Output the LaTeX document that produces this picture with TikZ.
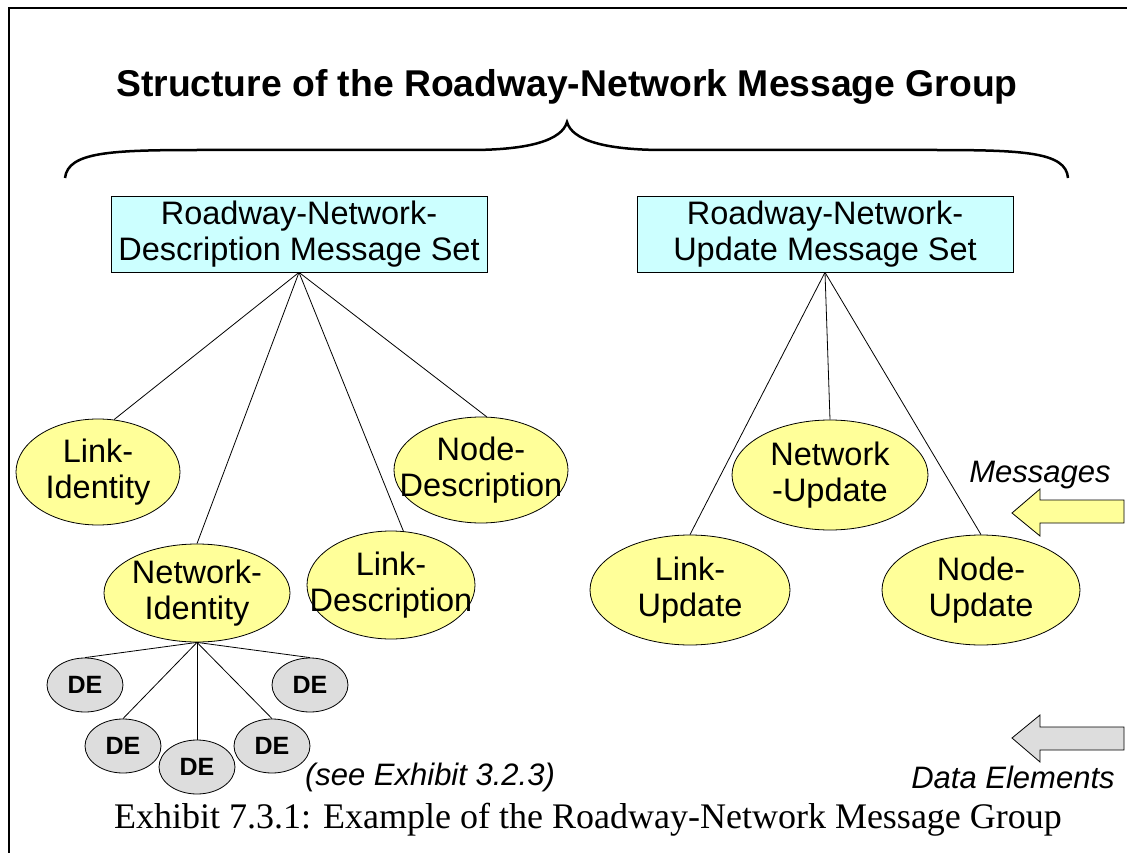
\documentclass[tikz,border=0pt]{standalone}
\usepackage{fontspec}
\setmainfont{Liberation Sans}
\newfontfamily\capfont{Liberation Serif}
\usepackage{tikz}
\usetikzlibrary{shapes.geometric}
\usepackage{xcolor}
\definecolor{setcyan}{HTML}{CCFFFF}
\definecolor{msgyellow}{HTML}{FFFF99}
\definecolor{degray}{HTML}{DDDDDD}

\begin{document}
\begin{tikzpicture}[x=1pt,y=-1pt,
  msgset/.style={draw,fill=setcyan,line width=0.8pt,minimum width=376pt,minimum height=76pt,align=center,font=\fontsize{32.5}{36}\selectfont},
  msg/.style={ellipse,draw,fill=msgyellow,line width=0.8pt,inner sep=0pt},
  msgtext/.style={align=center,font=\fontsize{32.5}{36}\selectfont},
  de/.style={ellipse,draw,fill=degray,line width=0.8pt,minimum width=76pt,minimum height=54pt,inner sep=0pt,font=\fontsize{25}{28}\selectfont\bfseries},
  note/.style={font=\fontsize{31}{35}\selectfont\itshape},
  link/.style={line width=0.8pt}]
\useasboundingbox (0,0) rectangle (1127,853);

\draw[line width=2.5pt] (9,853) -- (9,8) -- (1127,8);

\node[font=\fontsize{37.3}{40}\selectfont\bfseries] (title) at (567,87) {Structure of the Roadway-Network Message Group};

\draw[line width=2.5pt] (65,178) .. controls (68,152) and (110,150) .. (200,150) -- (470,150)
  .. controls (530,150) and (562,140) .. (567,122)
  .. controls (572,140) and (604,150) .. (664,150) -- (934,150)
  .. controls (1024,150) and (1066,152) .. (1068,178);

\node[msgset] (rnd) at (299,234) {Roadway-Network-\\Description Message Set};
\node[msgset] (rnu) at (825,234) {Roadway-Network-\\Update Message Set};

\node[msg,minimum width=164pt,minimum height=106pt,label={[msgtext]center:{Link-\\Identity}}] (linkid) at (98,472) {};
\node[msg,minimum width=186pt,minimum height=98pt,label={[msgtext]center:{Network-\\Identity}}] (netid) at (197,593) {};
\node[msg,minimum width=168pt,minimum height=108pt,label={[msgtext]center:{Link-\\Description}}] (linkdesc) at (391,585) {};
\node[msg,minimum width=174pt,minimum height=106pt,label={[msgtext]center:{Node-\\Description}}] (nodedesc) at (481,470) {};
\node[msg,minimum width=196pt,minimum height=110pt,label={[msgtext]center:{Network\\-Update}}] (netupd) at (830,475) {};
\node[msg,minimum width=200pt,minimum height=110pt,label={[msgtext]center:{Link-\\Update}}] (linkupd) at (690,590) {};
\node[msg,minimum width=198pt,minimum height=110pt,label={[msgtext]center:{Node-\\Update}}] (nodeupd) at (981,590) {};

\draw[link] (rnd.south) -- (linkid.73);
\draw[link] (rnd.south) -- (netid.north);
\draw[link] (rnd.south) -- (linkdesc.77);
\draw[link] (rnd.south) -- (nodedesc.84);
\draw[link] (rnu.south) -- (linkupd.north);
\draw[link] (rnu.south) -- (netupd.north);
\draw[link] (rnu.south) -- (nodeupd.north);

\node[de] (de1) at (85,685) {DE};
\node[de] (de2) at (123,746) {DE};
\node[de] (de3) at (197,767) {DE};
\node[de] (de4) at (272,746) {DE};
\node[de] (de5) at (310,685) {DE};
\draw[link] (netid.south) -- (de1.north);
\draw[link] (netid.south) -- (de2.north);
\draw[link] (netid.south) -- (de3.north);
\draw[link] (netid.south) -- (de4.north);
\draw[link] (netid.south) -- (de5.north);

\node[note] (seeref) at (430,777) {(see Exhibit 3.2.3)};
\node[note] (msglabel) at (1040,475) {Messages};
\node[note] (delabel) at (1013,777) {Data Elements};

\filldraw[fill=msgyellow,line width=0.8pt] (1012,513) -- (1040,489) -- (1040,500) -- (1124,500)
  -- (1124,523) -- (1040,523) -- (1040,536) -- cycle;
\filldraw[fill=degray,line width=0.8pt] (1012,738) -- (1040,715) -- (1040,727) -- (1124,727)
  -- (1124,750) -- (1040,750) -- (1040,762) -- cycle;

\node[font=\capfont\fontsize{36}{40}\selectfont] (caption) at (588,820) {Exhibit 7.3.1: Example of the Roadway-Network Message Group};
\end{tikzpicture}
\end{document}
